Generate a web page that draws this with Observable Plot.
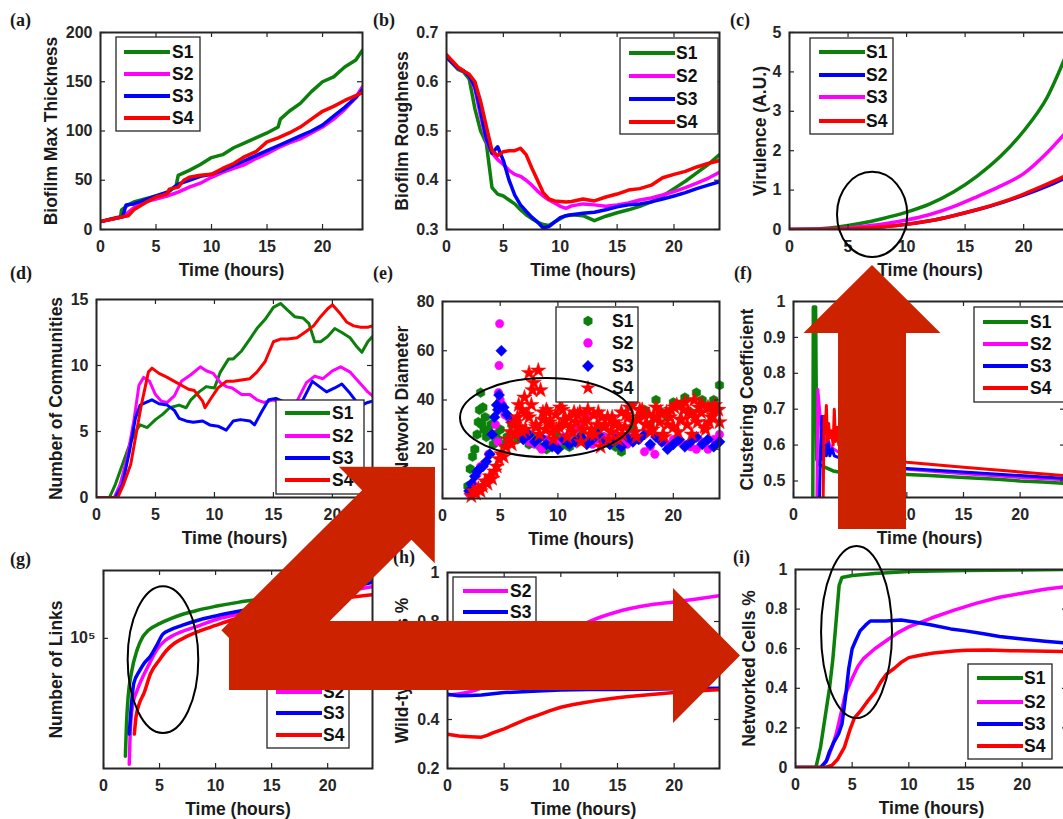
<!DOCTYPE html>
<html><head><meta charset="utf-8">
<script src="https://cdn.jsdelivr.net/npm/d3@7"></script>
<script src="https://cdn.jsdelivr.net/npm/@observablehq/plot@0.6"></script>
<style>
html,body{margin:0;padding:0;background:#fff;overflow:hidden}
#root{position:relative;width:1063px;height:819px;overflow:hidden;background:#fff}
#root svg{position:absolute}
</style></head><body><div id="root"></div>
<script>
// ---------------- DATA ----------------
const seriesNames = ["S1","S2","S3","S4"];
const xTickVals = [0,5,10,15,20];

// (a) Biofilm Max Thickness
const aS1t=[0,1,1.8,1.9,2.5,3,4,5,6,6.8,7,8,9,10,11,12,13,14,15,16,16.2,17,18,19,20,21,22,23,23.6];
const aS1v=[8,11,13,20,25,28,31,34,37,44,55,60,66,73,76,83,88,93,98,104,112,120,128,140,150,155,165,172,182];
const aS2t=[0,2,3,4,5,6,7,8,9,10,11,12,13,14,15,16,17,18,19,20,21,22,23,23.6];
const aS2v=[8,13,22,28,31,34,38,43,47,53,58,62,66,72,77,83,88,92,98,104,112,122,134,145];
const aS3t=[0,2,2.3,3,4,5,6,7,8,9,10,11,12,13,14,15,16,17,18,19,20,21,22,23,23.6];
const aS3v=[8,13,25,26,30,34,38,46,50,54,56,60,65,70,75,80,85,90,95,100,106,115,124,134,142];
const aS4t=[0,2,2.5,3,4,5,6,6.2,7,7.5,8,9,10,11,12,13,14,15,16,17,18,19,20,21,22,23,23.6];
const aS4v=[8,13,14,20,27,33,36,41,43,50,53,55,56,62,67,74,79,89,93,98,104,112,120,125,131,136,139];

// (b) Biofilm Roughness
const bT=[0,1,1.5,2,2.5,3,3.5,4,4.5,5,5.5,6,6.5,7,7.5,8,8.5,9,9.5,10,10.5,11,12,13,14,15,16,17,18,19,20,21,22,23,24];
const bS1=[0.65,0.625,0.62,0.605,0.545,0.5,0.475,0.385,0.372,0.368,0.36,0.352,0.34,0.33,0.322,0.315,0.31,0.308,0.315,0.322,0.328,0.33,0.328,0.318,0.327,0.334,0.34,0.347,0.356,0.368,0.383,0.398,0.415,0.432,0.452];
const bS2=[0.65,0.628,0.622,0.612,0.585,0.53,0.48,0.455,0.442,0.432,0.42,0.412,0.408,0.4,0.39,0.378,0.368,0.36,0.354,0.347,0.343,0.348,0.352,0.35,0.347,0.35,0.354,0.36,0.364,0.37,0.377,0.385,0.394,0.404,0.416];
const bS3=[0.65,0.628,0.622,0.612,0.59,0.54,0.485,0.455,0.468,0.44,0.4,0.37,0.35,0.337,0.325,0.315,0.303,0.306,0.315,0.324,0.328,0.33,0.333,0.335,0.34,0.346,0.35,0.352,0.356,0.362,0.368,0.375,0.383,0.39,0.397];
const bS4=[0.655,0.63,0.622,0.615,0.6,0.56,0.51,0.46,0.45,0.458,0.46,0.46,0.465,0.452,0.425,0.4,0.375,0.362,0.358,0.357,0.356,0.357,0.362,0.358,0.366,0.372,0.38,0.383,0.39,0.405,0.412,0.418,0.427,0.434,0.44];

// (c) Virulence
const cT=[0,2,4,6,8,10,12,14,16,18,20,22,24];
const cS1=[0,0.01,0.06,0.15,0.28,0.44,0.65,0.95,1.35,1.85,2.5,3.35,4.7];
const cS2=[0,0,0.01,0.03,0.07,0.13,0.22,0.35,0.5,0.67,0.87,1.1,1.37];
const cS3=[0,0,0.02,0.07,0.14,0.24,0.38,0.58,0.83,1.1,1.42,1.95,2.6];
const cS4=[0,0,0.01,0.03,0.07,0.13,0.22,0.35,0.5,0.68,0.9,1.15,1.42];

// (d) Number of Communities
const dS1t=[0,1.1,1.6,2.2,2.8,3.3,3.7,4.3,5,5.6,6.2,7,7.6,8,8.7,9.3,10,10.5,11.2,11.6,12.3,13,13.6,14.3,15,15.6,16.2,16.8,17.5,18,18.5,19,19.6,20.2,20.8,21.5,22,22.5,23,23.4];
const dS1v=[0,0,1,2.5,4,5,5.5,5.3,5.9,6.3,6.8,7,6.8,7.4,8,8.4,8.3,9.5,10.5,10.5,11.1,12,12.8,13.5,14.4,14.7,14.2,13.7,13.6,13.2,11.8,11.8,12.2,12.8,12.5,12.1,11.5,11,11.8,12.2];
const dS2t=[0,1.5,2,2.6,3.2,3.6,4,4.5,5,5.5,6,6.6,7.2,8,8.8,9.3,9.9,10.5,11,11.5,12.3,13,13.6,14.2,15,16,17,17.8,18.5,19.2,20,20.7,21.5,22,22.5,23,23.4];
const dS2v=[0,0,1,3,6,8.5,9.1,8.8,7.8,7.3,7.2,7.7,8.8,9.3,9.9,9.6,9.4,8.7,8.4,8.3,7.8,7.8,7.4,7.2,7.4,7,7.3,8.7,9.2,9,9.6,9.9,9.5,9,8.5,8,7.7];
const dS3t=[0,1.6,2.2,2.8,3.3,3.7,4.2,4.7,5.3,6,6.6,7,7.6,8.2,9,9.6,10.3,11,11.6,12.2,13,13.4,14,14.6,15.2,16,17,17.5,18.3,18.9,19.5,20.2,20.8,21.4,22,22.5,23,23.4];
const dS3v=[0,0,1,3.5,6,7,7.2,7.4,7.1,7,6.6,6,5.8,5.7,5.8,5.5,5.4,5.1,5.8,5.9,5.8,5.5,6.5,7.4,7.5,7.2,7,7.4,8.8,8.4,8,8.3,8.6,8,7.3,7,7.2,7.3];
const dS4t=[0,1.8,2.3,2.9,3.3,3.8,4.4,4.7,5.3,6,6.6,7.2,7.8,8.3,9,9.2,9.7,10.3,11,11.6,12.3,13,13.6,14.3,15,15.6,16.2,17,17.8,18.4,19,19.6,20,20.6,21.2,21.8,22.4,23,23.4];
const dS4v=[0,0,1,2.5,4.5,7,9.5,9.8,9.4,9.1,8.8,8.5,8.2,8.1,7.3,6.8,7.5,8.3,8.8,8.8,8.9,9,9.5,10.3,11.8,12,12,12.1,12.6,13,13.7,14.3,14.6,14,13.3,13,12.9,12.9,13];

// (e) Network Diameter (scatter)
const eS1t=[2.2,2.4,2.6,2.8,3.0,3.1,3.2,3.3,3.4,3.5,3.6,3.7,3.8,4.0,4.2,4.4,4.6,4.8,5.0,5.3,5.6,6.0,6.5,7.0,7.5,8.0,8.5,9.0,9.5,10.0,10.5,11.0,11.5,12.0,12.5,13.0,13.5,14.0,14.5,15.0,15.5,16.0,16.5,17.0,17.5,18.0,18.5,19.0,19.5,20.0,20.5,21.0,21.5,22.0,22.5,23.0,23.5,24.0];
const eS1v=[5,12,17,20,26,31,36,43,30,37,28,33,25,27,30,22,26,24,28,22,25,30,24,27,22,24,21,20,23,25,22,21,24,26,23,27,29,25,22,21,19,24,28,33,36,30,40,35,33,39,38,41,35,43,40,37,40,46];
const eS2t=[2.3,2.6,3.0,3.3,3.6,4.0,4.3,4.6,4.8,4.85,4.9,4.95,5.0,5.2,5.4,5.7,6.0,6.5,7.0,7.5,8.0,8.6,9.0,9.5,10.0,10.5,11.0,11.5,12.0,12.5,13.0,13.5,14.0,14.5,15.0,15.5,16.0,16.5,17.0,17.5,18.0,18.4,19.0,19.5,20.0,20.5,21.0,21.5,22.0,22.5,23.0,23.5,24.0];
const eS2v=[2,6,10,13,14,18,26,30,23,43,54,71,40,38,34,33,31,27,25,23,22,20,24,22,23,25,26,28,30,34,22,24,25,24,26,23,22,25,24,19,21,18,23,22,24,23,22,21,20,23,20,24,26];
const eS3t=[2.3,2.5,2.8,3.0,3.2,3.5,3.8,4.1,4.3,4.5,4.7,4.8,4.9,5.1,5.3,5.6,6.0,6.5,7.0,7.5,8.0,8.5,9.0,9.5,10.0,10.5,11.0,11.5,12.0,12.5,13.0,13.5,14.0,14.5,15.0,15.5,16.0,16.5,17.0,17.5,18.0,18.5,19.0,19.5,20.0,20.5,21.0,21.5,22.0,22.5,23.0,23.5,24.0];
const eS3v=[3,6,9,11,12,13,15,18,26,33,38,36,42,60,37,34,31,27,24,26,23,25,22,21,20,24,22,23,25,22,24,26,23,22,24,21,25,23,24,26,22,25,23,20,22,24,21,23,25,22,24,21,23];
const eS4t=[2.5,2.7,2.9,3.1,3.3,3.5,3.7,3.9,4.1,4.3,4.5,4.7,4.9,5.1,5.3,5.5,5.7,5.9,6.1,6.3,6.5,6.7,6.9,7.1,7.3,7.5,7.7,7.9,8.1,8.3,8.5,8.7,8.9,9.1,9.3,9.5,9.8,10.1,10.4,10.7,11.0,11.3,11.6,11.9,12.2,12.5,12.8,13.1,13.4,13.7,14.0,14.3,14.6,14.9,15.2,15.5,15.8,16.1,16.4,16.7,17.0,17.3,17.6,17.9,18.2,18.5,18.8,19.1,19.4,19.7,20.0,20.3,20.6,20.9,21.2,21.5,21.8,22.1,22.4,22.7,23.0,23.3,23.6,23.9,
  6.0,6.6,7.2,7.8,8.4,9.0,9.6,10.2,10.8,11.4,12.0,12.6,13.2,13.8,14.4,15.0,15.6,16.2,16.8,17.4,18.0,18.6,19.2,19.8,20.4,21.0,21.6,22.2,22.8,23.4,24.0,
  6.3,6.9,7.5,8.1,8.7,9.3,9.9,10.5,11.1,11.7,12.3,12.9,13.5,14.1,14.7,15.3,15.9,16.5,17.1,17.7,18.3,18.9,19.5,20.1,20.7,21.3,21.9,22.5,23.1,23.7];
const eS4v=[1,3,2,4,3,5,7,6,9,8,11,13,16,18,17,21,24,27,30,26,33,29,36,41,34,51,38,47,30,52,44,32,28,35,31,27,34,29,36,30,33,27,31,35,28,32,26,34,30,21,29,33,27,31,24,35,29,33,38,27,32,36,30,34,28,37,31,26,35,33,29,38,32,36,30,34,40,31,35,29,37,33,38,36,
  22,38,28,44,26,36,24,37,25,35,23,36,26,33,24,30,26,37,25,34,27,33,25,36,27,39,26,37,28,34,31,
  31,27,33,29,35,30,28,32,29,34,31,28,35,30,33,29,34,31,36,30,33,35,30,37,32,35,33,38,31,36];

// (f) Clustering Coefficient
const fS1t=[1.7,1.75,1.95,2.05,2.3,3,3.5,4,6,8,10,12,15,18,20,22,24];
const fS1v=[0.4,0.985,0.985,0.56,0.545,0.535,0.528,0.525,0.522,0.52,0.518,0.515,0.51,0.505,0.5,0.497,0.493];
const fS2t=[2.05,2.15,2.3,2.45,2.6,2.8,3,3.2,3.5,4,6,8,10,15,20,24];
const fS2v=[0.4,0.755,0.7,0.63,0.66,0.6,0.62,0.6,0.59,0.58,0.555,0.54,0.533,0.52,0.51,0.503];
const fS3t=[2.25,2.4,2.5,2.6,2.75,2.9,3.05,3.2,3.4,3.6,4,6,8,10,15,20,24];
const fS3v=[0.4,0.6,0.68,0.56,0.6,0.57,0.61,0.57,0.59,0.57,0.565,0.55,0.54,0.535,0.525,0.515,0.507];
const fS4t=[2.6,2.7,2.8,2.9,3.0,3.1,3.2,3.35,3.5,3.6,3.7,3.85,4,5,6,8,10,15,20,24];
const fS4v=[0.4,0.68,0.63,0.71,0.61,0.66,0.62,0.64,0.6,0.7,0.61,0.65,0.6,0.58,0.57,0.56,0.552,0.538,0.525,0.515];

// (g) Number of Links (log)
const gS1t=[1.95,2.05,2.2,2.5,3,3.5,4,5,6,7,8,9,10,12,14,16,18,20,22,24];
const gS1v=[1.9e4,3.0e4,4.4e4,6.2e4,8.5e4,1.02e5,1.12e5,1.23e5,1.32e5,1.4e5,1.46e5,1.52e5,1.57e5,1.66e5,1.74e5,1.85e5,1.95e5,2.05e5,2.18e5,2.3e5];
const gS2t=[2.3,2.4,2.6,3,3.5,4,4.8,5.5,6.2,7,8.6,10,11.5,14,16,18,20,22,24];
const gS2v=[1.7e4,2.8e4,3.9e4,4.8e4,5.8e4,6.8e4,8.6e4,9.7e4,1.04e5,1.1e5,1.2e5,1.3e5,1.38e5,1.5e5,1.62e5,1.74e5,1.85e5,1.96e5,2.07e5];
const gS3t=[2.3,2.5,2.7,3.2,3.6,4.2,4.8,5.3,6,7,8.6,10,11.5,14,16,18,20,22,24];
const gS3v=[2.6e4,4.0e4,5.3e4,6.3e4,7.0e4,7.8e4,9.2e4,1.06e5,1.13e5,1.2e5,1.3e5,1.37e5,1.44e5,1.56e5,1.68e5,1.8e5,1.92e5,2.05e5,2.2e5];
const gS4t=[2.75,2.9,3.2,3.6,4.2,5,5.6,6.3,7.1,8.6,10,11.5,14,16,18,20,22,24];
const gS4v=[2.6e4,3.3e4,4.0e4,4.6e4,6.1e4,7.4e4,8.4e4,9.3e4,1.0e5,1.11e5,1.2e5,1.3e5,1.42e5,1.52e5,1.62e5,1.7e5,1.78e5,1.85e5];

// (h) Wild-type Cells %
const hS2t=[0,2.5,5,7.5,10,12.5,15,17.5,20,22,24];
const hS2v=[0.5,0.52,0.58,0.66,0.74,0.8,0.84,0.865,0.88,0.892,0.905];
const hS3t=[0,1,2,3,4,5,7.5,10,12.5,15,17.5,20,22,24];
const hS3v=[0.503,0.497,0.498,0.5,0.505,0.51,0.515,0.52,0.522,0.522,0.523,0.525,0.527,0.528];
const hS4t=[0,1,2,3,3.5,4,5,6,7,8,9,10,11,12,13,14,15,16,17,18,19,20,21,22,23,24];
const hS4v=[0.34,0.333,0.33,0.328,0.335,0.345,0.362,0.382,0.402,0.418,0.435,0.45,0.46,0.468,0.476,0.483,0.489,0.494,0.498,0.502,0.506,0.51,0.513,0.516,0.519,0.522];

// (i) Networked Cells %
const iS1t=[0,1.8,2.2,2.6,3,3.3,3.6,3.85,4.1,5,7,10,15,20,24];
const iS1v=[0,0,0.1,0.25,0.4,0.55,0.75,0.92,0.96,0.97,0.98,0.99,0.995,0.998,1.0];
const iS2t=[0,2.3,2.8,3.2,3.6,4,4.4,5,5.5,6,7,8,9,10,12,14,16,18,20,22,24];
const iS2v=[0,0,0.04,0.1,0.17,0.27,0.37,0.45,0.51,0.55,0.6,0.64,0.68,0.71,0.755,0.795,0.83,0.86,0.88,0.9,0.915];
const iS3t=[0,2.2,2.7,3,3.4,3.8,4.1,4.4,4.7,5,5.3,5.7,6.2,6.6,8,9.3,10.5,12,13.7,15,16.6,18,19.6,22,24];
const iS3v=[0,0,0.03,0.08,0.13,0.17,0.22,0.35,0.5,0.6,0.64,0.69,0.72,0.74,0.74,0.745,0.735,0.72,0.7,0.69,0.675,0.662,0.652,0.638,0.628];
const iS4t=[0,2.6,3.2,3.7,4.3,4.8,5.2,5.8,6.3,7,7.5,8,8.7,9.3,10,11,12.2,14,15.1,17,19,21,24];
const iS4v=[0,0,0.01,0.04,0.1,0.19,0.25,0.29,0.33,0.38,0.43,0.47,0.5,0.53,0.555,0.567,0.578,0.588,0.592,0.593,0.59,0.588,0.585];

// ---------------- STYLE / LAYOUT ----------------
const GREEN="#0b800b", MAG="#ff00ff", BLUE="#0000ff", RED="#ff0000", ARROW="#cc2200";
const FONT="'Liberation Sans', Arial, Helvetica, sans-serif";
const root=document.getElementById("root");
const rows=(t,v)=>t.map((x,i)=>({t:x,v:v[i]}));
const ln=(t,v,c,extra={})=>Plot.line(rows(t,v),{x:"t",y:"v",stroke:c,strokeWidth:3.5,clip:true,...extra});

function makePanel({L,T,R,B,xDom,yDom,yType,yTicks,yFmt,xLabel,yLabel,yOff,marks}){
  const ml=80,mr=12,mt=12,mb=62, iw=R-L, ih=B-T;
  const tk={stroke:"#262626",strokeWidth:1.2};
  const p=Plot.plot({
    width:iw+ml+mr,height:ih+mt+mb,marginLeft:ml,marginRight:mr,marginTop:mt,marginBottom:mb,
    style:{background:"transparent",overflow:"visible",fontFamily:FONT,fontWeight:"bold",fontSize:"16px",color:"#262626",maxWidth:"none"},
    x:{domain:xDom},
    y:{domain:yDom,type:yType||"linear"},
    marks:[
      ...marks,
      Plot.ruleX(xTickVals,{x:d=>d,insetTop:ih-5,...tk}),
      Plot.ruleX(xTickVals,{x:d=>d,insetBottom:ih-5,...tk}),
      Plot.ruleY(yTicks,{y:d=>d,insetRight:iw-5,...tk}),
      Plot.ruleY(yTicks,{y:d=>d,insetLeft:iw-5,...tk}),
      Plot.frame({stroke:"#262626",strokeWidth:2}),
      Plot.axisX({ticks:xTickVals,tickSize:0,tickPadding:11,tickFormat:d=>String(d),label:null,fontSize:16}),
      Plot.axisY({ticks:yTicks,tickSize:0,tickPadding:8,tickFormat:yFmt||(d=>String(d)),label:null,fontSize:16}),
      Plot.text([xLabel],{frameAnchor:"bottom",dy:41,lineAnchor:"middle",textAnchor:"middle",text:d=>d,fontSize:17.5,fill:"#1a1a1a"}),
      Plot.text([yLabel],{frameAnchor:"left",dx:-yOff,rotate:-90,textAnchor:"middle",lineAnchor:"middle",text:d=>d,fontSize:17.5,fill:"#1a1a1a"})
    ]
  });
  p.style.left=(L-ml)+"px"; p.style.top=(T-mt)+"px";
  root.appendChild(p);
  return {p,ox:L-ml,oy:T-mt};
}

const TL="Time (hours)";
const pa=makePanel({L:100,T:32,R:362,B:229,xDom:[0,23.6],yDom:[0,200],yTicks:[0,50,100,150,200],xLabel:TL,yLabel:"Biofilm Max Thickness",yOff:49,
  marks:[ln(aS1t,aS1v,GREEN),ln(aS2t,aS2v,MAG),ln(aS3t,aS3v,BLUE),ln(aS4t,aS4v,RED)]});
const pb=makePanel({L:446,T:32,R:719,B:229,xDom:[0,24],yDom:[0.3,0.7],yTicks:[0.3,0.4,0.5,0.6,0.7],xLabel:TL,yLabel:"Biofilm Roughness",yOff:44,
  marks:[ln(bT,bS1,GREEN),ln(bT,bS2,MAG),ln(bT,bS3,BLUE),ln(bT,bS4,RED)]});
const pc=makePanel({L:789,T:32,R:1070,B:229,xDom:[0,24],yDom:[0,5],yTicks:[0,1,2,3,4,5],xLabel:TL,yLabel:"Virulence (A.U.)",yOff:29,
  marks:[ln(cT,cS1,GREEN,{curve:"monotone-x"}),ln(cT,cS2,BLUE,{curve:"monotone-x"}),ln(cT,cS3,MAG,{curve:"monotone-x"}),ln(cT,cS4,RED,{curve:"monotone-x"})]});
const pd=makePanel({L:96,T:299,R:372,B:497,xDom:[0,23.4],yDom:[0,15],yTicks:[0,5,10,15],xLabel:TL,yLabel:"Number of Communities",yOff:40,
  marks:[ln(dS1t,dS1v,GREEN,{strokeWidth:3}),ln(dS2t,dS2v,MAG,{strokeWidth:3}),ln(dS3t,dS3v,BLUE,{strokeWidth:3}),ln(dS4t,dS4v,RED,{strokeWidth:3})]});
const pe=makePanel({L:442,T:301,R:719,B:498,xDom:[0,24],yDom:[0,80],yTicks:[0,20,40,60,80],xLabel:TL,yLabel:"Network Diameter",yOff:40,
  marks:[
    Plot.dot(rows(eS1t,eS1v),{x:"t",y:"v",symbol:"hexagon",r:4.2,fill:GREEN,stroke:GREEN,strokeWidth:0.5}),
    Plot.dot(rows(eS2t,eS2v),{x:"t",y:"v",symbol:"circle",r:4.2,fill:MAG,stroke:MAG,strokeWidth:0.5}),
    Plot.dot(rows(eS3t,eS3v),{x:"t",y:"v",symbol:"diamond2",r:5,fill:BLUE,stroke:BLUE,strokeWidth:0.5}),
    Plot.dot(rows(eS4t,eS4v),{x:"t",y:"v",symbol:"star",r:4.8,fill:RED,stroke:RED,strokeWidth:0.5})
  ]});
const pf=makePanel({L:793,T:301,R:1065,B:497,xDom:[0,24],yDom:[0.454,1],yTicks:[0.5,0.6,0.7,0.8,0.9,1],xLabel:TL,yLabel:"Clustering Coefficient",yOff:46,
  marks:[ln(fS1t,fS1v,GREEN),ln(fS2t,fS2v,MAG,{strokeWidth:3}),ln(fS3t,fS3v,BLUE,{strokeWidth:3}),ln(fS4t,fS4v,RED,{strokeWidth:3})]});
const pg=makePanel({L:103,T:570,R:372,B:768,xDom:[0,24],yDom:[1.6e4,2.6e5],yType:"log",yTicks:[1e5],yFmt:()=>"10\u2075",xLabel:TL,yLabel:"Number of Links",yOff:47,
  marks:[ln(gS1t,gS1v,GREEN,{curve:"monotone-x"}),ln(gS2t,gS2v,MAG,{curve:"monotone-x"}),ln(gS3t,gS3v,BLUE,{curve:"monotone-x"}),ln(gS4t,gS4v,RED,{curve:"monotone-x"})]});
const ph=makePanel({L:447,T:572,R:719,B:768,xDom:[0,24],yDom:[0.2,1],yTicks:[0.2,0.4,0.6,0.8,1],xLabel:TL,yLabel:"Wild-type Cells %",yOff:45,
  marks:[ln(hS2t,hS2v,MAG,{curve:"monotone-x"}),ln(hS3t,hS3v,BLUE),ln(hS4t,hS4v,RED)]});
const pi=makePanel({L:795,T:569,R:1067,B:767,xDom:[0,24],yDom:[0,1],yTicks:[0,0.2,0.4,0.6,0.8,1],xLabel:TL,yLabel:"Networked Cells %",yOff:46,
  marks:[ln(iS1t,iS1v,GREEN),ln(iS2t,iS2v,MAG),ln(iS3t,iS3v,BLUE),ln(iS4t,iS4v,RED)]});

// ---------------- OVERLAY: legends, ellipses, labels, arrows ----------------
const ov=d3.select(root).append("svg").attr("width",1063).attr("height",819).style("left","0px").style("top","0px")
  .style("font-family",FONT).style("font-weight","bold");

function legend(box,lx1,lx2,tx,ys,names,colors){
  ov.append("rect").attr("x",box[0]).attr("y",box[1]).attr("width",box[2]-box[0]).attr("height",box[3]-box[1])
    .attr("fill","#fff").attr("stroke","#262626").attr("stroke-width",1.3);
  names.forEach((n,i)=>{
    ov.append("line").attr("x1",lx1).attr("x2",lx2).attr("y1",ys[i]).attr("y2",ys[i]).attr("stroke",colors[i]).attr("stroke-width",4);
    ov.append("text").attr("x",tx).attr("y",ys[i]).attr("dy","0.36em").attr("font-size",17.5).attr("fill","#111").text(n);
  });
}
const stdCols=[GREEN,MAG,BLUE,RED];
legend([116,37,200,131],124,170,172,[52,74,96,118],seriesNames,stdCols);
legend([620,38,718,134],629,675,676,[53,76,99,122],seriesNames,stdCols);
legend([810,38,893,134],819,865,866,[52,75,97,121],seriesNames,[GREEN,BLUE,MAG,RED]);
legend([276,400,364,494],285,330,332,[413,436,458,480],seriesNames,stdCols);
legend([974,307,1070,402],983,1028,1030,[322,344,366,388],seriesNames,stdCols);
legend([267,656,349,748],276,322,323,[670,692,713,735],seriesNames,stdCols);
legend([453,577,536,654],463,508,510,[591,612,633],seriesNames.slice(1),[MAG,BLUE,RED]);
legend([968,664,1052,759],977,1023,1024,[678,702,724,746],seriesNames,stdCols);

// (e) scatter legend
const hexType={draw(ctx,size){const r=Math.sqrt(size/2.598);for(let k=0;k<6;k++){const a=Math.PI/3*k+Math.PI/6;const x=r*Math.cos(a),y=r*Math.sin(a);k?ctx.lineTo(x,y):ctx.moveTo(x,y);}ctx.closePath();}};
ov.append("rect").attr("x",556).attr("y",307).attr("width",82).attr("height",95).attr("fill","#fff").attr("stroke","#262626").attr("stroke-width",1.3);
const eSyms=[[hexType,70,GREEN],[d3.symbolCircle,70,MAG],[d3.symbolDiamond2,90,BLUE],[d3.symbolStar,75,RED]];
[321,343,366,388].forEach((y,i)=>{
  ov.append("path").attr("d",d3.symbol(eSyms[i][0],eSyms[i][1])()).attr("transform",`translate(588,${y})`).attr("fill",eSyms[i][2]);
  ov.append("text").attr("x",612).attr("y",y).attr("dy","0.36em").attr("font-size",17.5).attr("fill","#111").text(seriesNames[i]);
});

// ellipses in data coordinates of their panels
function ellipse(P,x1,x2,y1,y2){
  const sx=P.p.scale("x"), sy=P.p.scale("y");
  const X1=P.ox+sx.apply(x1), X2=P.ox+sx.apply(x2), Y1=P.oy+sy.apply(y1), Y2=P.oy+sy.apply(y2);
  ov.append("ellipse").attr("cx",(X1+X2)/2).attr("cy",(Y1+Y2)/2).attr("rx",Math.abs(X2-X1)/2).attr("ry",Math.abs(Y2-Y1)/2)
    .attr("fill","none").attr("stroke","#000").attr("stroke-width",2);
}
ellipse(pc,4.1,10.1,-0.71,1.45);
ellipse(pe,1.56,16.55,16.6,48.7);
ellipse(pg,2.2,8.5,2.62e4,2.07e5);
ellipse(pi,2.3,8.56,0.247,1.116);

// panel letters
[["(a)",10,26],["(b)",373,26],["(c)",730,26],["(d)",10,279],["(e)",373,279],["(f)",734,279],["(g)",10,565],["(h)",393,563],["(i)",733,563]]
  .forEach(([t,x,y])=>ov.append("text").attr("x",x).attr("y",y).attr("font-family","'Liberation Serif','Times New Roman',serif")
    .attr("font-weight","bold").attr("font-size",18).attr("fill","#1a1a1a").text(t));

// block arrows
function arrow(x0,y0,x1,y1,sw,hw,hl){
  const L=Math.hypot(x1-x0,y1-y0), ux=(x1-x0)/L, uy=(y1-y0)/L, nx=-uy, ny=ux;
  const bx=x1-ux*hl, by=y1-uy*hl;
  const pts=[[x0+nx*sw/2,y0+ny*sw/2],[bx+nx*sw/2,by+ny*sw/2],[bx+nx*hw/2,by+ny*hw/2],[x1,y1],
    [bx-nx*hw/2,by-ny*hw/2],[bx-nx*sw/2,by-ny*sw/2],[x0-nx*sw/2,y0-ny*sw/2]];
  ov.append("polygon").attr("points",pts.map(p=>p.join(",")).join(" ")).attr("fill",ARROW);
}
arrow(229,655.5,740,655.5,69,135,67);
arrow(246,655,435,467,70,136,68);
arrow(872,529,872,265,68,137,68);
</script></body></html>
